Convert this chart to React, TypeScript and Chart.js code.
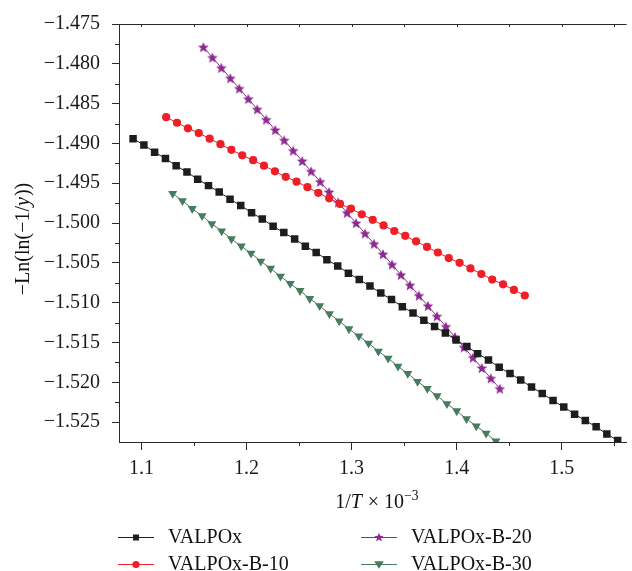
import React, { useEffect, useRef } from 'react';
import { Chart, registerables } from 'chart.js';

Chart.register(...registerables);

// ---------------- data ----------------
const valpoxX = [1.0920, 1.1023, 1.1125, 1.1228, 1.1330, 1.1433, 1.1535, 1.1638, 1.1740, 1.1843, 1.1945, 1.2048, 1.2150, 1.2253, 1.2355, 1.2458, 1.2560, 1.2663, 1.2765, 1.2868, 1.2970, 1.3073, 1.3175, 1.3278, 1.3380, 1.3483, 1.3585, 1.3688, 1.3790, 1.3893, 1.3995, 1.4098, 1.4200, 1.4303, 1.4405, 1.4508, 1.4610, 1.4713, 1.4815, 1.4918, 1.5020, 1.5123, 1.5225, 1.5328, 1.5430, 1.5533];
const valpoxY = [-1.4894, -1.4902, -1.4911, -1.4919, -1.4928, -1.4936, -1.4945, -1.4953, -1.4961, -1.4970, -1.4978, -1.4987, -1.4995, -1.5004, -1.5012, -1.5020, -1.5029, -1.5037, -1.5046, -1.5054, -1.5063, -1.5071, -1.5079, -1.5088, -1.5096, -1.5105, -1.5113, -1.5122, -1.5130, -1.5138, -1.5147, -1.5155, -1.5164, -1.5172, -1.5181, -1.5189, -1.5197, -1.5206, -1.5214, -1.5223, -1.5231, -1.5240, -1.5248, -1.5256, -1.5265, -1.5273];

const b10X = [1.1235, 1.1338, 1.1442, 1.1545, 1.1649, 1.1752, 1.1856, 1.1959, 1.2063, 1.2166, 1.2270, 1.2373, 1.2476, 1.2580, 1.2683, 1.2787, 1.2890, 1.2994, 1.3097, 1.3201, 1.3304, 1.3407, 1.3511, 1.3614, 1.3718, 1.3821, 1.3925, 1.4028, 1.4132, 1.4235, 1.4339, 1.4442, 1.4545, 1.4649];
const b10Y = [-1.4867, -1.4874, -1.4881, -1.4887, -1.4894, -1.4901, -1.4908, -1.4915, -1.4921, -1.4928, -1.4935, -1.4942, -1.4948, -1.4955, -1.4962, -1.4969, -1.4976, -1.4982, -1.4989, -1.4996, -1.5003, -1.5010, -1.5016, -1.5023, -1.5030, -1.5037, -1.5044, -1.5050, -1.5057, -1.5064, -1.5071, -1.5077, -1.5084, -1.5091];

const b20X = [1.1589, 1.1675, 1.1760, 1.1846, 1.1931, 1.2017, 1.2102, 1.2188, 1.2273, 1.2359, 1.2444, 1.2530, 1.2615, 1.2701, 1.2786, 1.2872, 1.2957, 1.3043, 1.3128, 1.3214, 1.3299, 1.3385, 1.3470, 1.3556, 1.3641, 1.3727, 1.3813, 1.3898, 1.3984, 1.4069, 1.4155, 1.4240, 1.4326, 1.4411];
const b20Y = [-1.4779, -1.4792, -1.4805, -1.4818, -1.4831, -1.4844, -1.4857, -1.4870, -1.4883, -1.4896, -1.4909, -1.4922, -1.4935, -1.4948, -1.4961, -1.4974, -1.4987, -1.5000, -1.5013, -1.5026, -1.5039, -1.5052, -1.5065, -1.5078, -1.5091, -1.5104, -1.5117, -1.5130, -1.5143, -1.5156, -1.5169, -1.5182, -1.5195, -1.5208];

const b30X = [1.1297, 1.1390, 1.1483, 1.1577, 1.1670, 1.1763, 1.1856, 1.1950, 1.2043, 1.2136, 1.2229, 1.2323, 1.2416, 1.2509, 1.2602, 1.2696, 1.2789, 1.2882, 1.2975, 1.3069, 1.3162, 1.3255, 1.3348, 1.3442, 1.3535, 1.3628, 1.3721, 1.3814, 1.3908, 1.4001, 1.4094, 1.4187, 1.4281, 1.4374];
const b30Y = [-1.4963, -1.4972, -1.4982, -1.4991, -1.5001, -1.5010, -1.5020, -1.5029, -1.5038, -1.5048, -1.5057, -1.5067, -1.5076, -1.5085, -1.5095, -1.5104, -1.5114, -1.5123, -1.5133, -1.5142, -1.5151, -1.5161, -1.5170, -1.5180, -1.5189, -1.5199, -1.5208, -1.5217, -1.5227, -1.5236, -1.5246, -1.5255, -1.5264, -1.5274];

const seriesNames = ['VALPOx', 'VALPOx-B-10', 'VALPOx-B-20', 'VALPOx-B-30'];
const seriesColors = ['#1d1d1d', '#ee1f26', '#8b2a8f', '#477b5d'];
const seriesMarkers = ['square', 'circle', 'star', 'triangleDown'];

const xMajorTicks = [1.1, 1.2, 1.3, 1.4, 1.5];
const xMinorTicks = [1.15, 1.25, 1.35, 1.45, 1.55];
const yMajorTicks = [-1.525, -1.52, -1.515, -1.51, -1.505, -1.5, -1.495, -1.49, -1.485, -1.48, -1.475];
const yMinorTicks = [-1.5225, -1.5175, -1.5125, -1.5075, -1.5025, -1.4975, -1.4925, -1.4875, -1.4825, -1.4775];
const xRange = [1.0786, 1.5619];
const yRange = [-1.5275, -1.475];

// legend layout: [series index] per column, rows top to bottom
const legendColumns = [[0, 1], [2, 3]];

const FONT = '"Liberation Serif", "Times New Roman", serif';
const AXIS = '#2a2a2a';

function starPath(ctx: CanvasRenderingContext2D, cx: number, cy: number, outer: number, inner: number) {
  ctx.beginPath();
  for (let i = 0; i < 10; i++) {
    const r = i % 2 === 0 ? outer : inner;
    const a = -Math.PI / 2 + (i * Math.PI) / 5;
    const px = cx + r * Math.cos(a);
    const py = cy + r * Math.sin(a);
    if (i === 0) ctx.moveTo(px, py); else ctx.lineTo(px, py);
  }
  ctx.closePath();
}

function makeStar(color: string, outer: number, inner: number) {
  const c = document.createElement('canvas');
  const s = Math.ceil(outer * 2 + 2);
  c.width = s; c.height = s;
  const g = c.getContext('2d')!;
  g.fillStyle = color;
  starPath(g, s / 2, s / 2 + 0.6, outer, inner);
  g.fill();
  return c;
}

function drawMarker(ctx: CanvasRenderingContext2D, kind: string, x: number, y: number, color: string) {
  ctx.fillStyle = color;
  if (kind === 'square') {
    ctx.fillRect(x - 3, y - 3, 6, 6);
  } else if (kind === 'circle') {
    ctx.beginPath(); ctx.arc(x, y, 3.6, 0, Math.PI * 2); ctx.fill();
  } else if (kind === 'star') {
    starPath(ctx, x, y, 4.8, 2.1); ctx.fill();
  } else {
    ctx.beginPath();
    ctx.moveTo(x - 4.8, y - 3.2); ctx.lineTo(x + 4.8, y - 3.2); ctx.lineTo(x, y + 4.2);
    ctx.closePath(); ctx.fill();
  }
}

function drawRich(ctx: CanvasRenderingContext2D, parts: { t: string; it?: boolean; sup?: boolean }[], size: number, startX: number, baseY: number, measureOnly = false) {
  let x = startX;
  for (const p of parts) {
    const fs = p.sup ? size * 0.68 : size;
    ctx.font = `${p.it ? 'italic ' : ''}${fs}px ${FONT}`;
    const w = ctx.measureText(p.t).width;
    if (!measureOnly) ctx.fillText(p.t, x, p.sup ? baseY - size * 0.42 : baseY);
    x += w + (p.it ? 1 : 0);
  }
  return x - startX;
}

const decorPlugin = {
  id: 'decor',
  afterDraw(chart: any) {
    const { ctx, chartArea: a, scales } = chart;
    const xs = scales.x, ys = scales.y;
    ctx.save();
    // minor ticks + top border
    ctx.strokeStyle = AXIS;
    ctx.lineWidth = 1;
    ctx.beginPath();
    xMinorTicks.forEach((v) => {
      const px = Math.round(xs.getPixelForValue(v)) + 0.5;
      ctx.moveTo(px, a.bottom); ctx.lineTo(px, a.bottom + 4);
    });
    yMinorTicks.forEach((v) => {
      const py = Math.round(ys.getPixelForValue(v)) + 0.5;
      ctx.moveTo(a.left, py); ctx.lineTo(a.left - 4, py);
    });
    ctx.moveTo(a.left, a.top + 0.5); ctx.lineTo(a.right, a.top + 0.5);
    [...xMajorTicks, ...xMinorTicks].forEach((v) => {
      const px = Math.round(xs.getPixelForValue(v)) + 0.5;
      ctx.moveTo(px, a.top); ctx.lineTo(px, a.top + 3);
    });
    ctx.stroke();

    ctx.fillStyle = '#111';
    ctx.textBaseline = 'alphabetic';
    ctx.textAlign = 'left';
    // x title
    const xParts = [{ t: '1/' }, { t: 'T', it: true }, { t: ' × 10' }, { t: '−3', sup: true }];
    const xw = drawRich(ctx, xParts, 20, 0, 0, true);
    const cx = (a.left + a.right) / 2 + 4;
    drawRich(ctx, xParts, 20, cx - xw / 2, a.bottom + 66);
    // y title
    const yParts = [{ t: '−Ln(ln(−1/' }, { t: 'y', it: true }, { t: '))' }];
    const yw = drawRich(ctx, yParts, 20, 0, 0, true);
    ctx.save();
    ctx.translate(29, (a.top + a.bottom) / 2 + 6);
    ctx.rotate(-Math.PI / 2);
    drawRich(ctx, yParts, 20, -yw / 2, 0);
    ctx.restore();

    // legend
    const colX = [118, 361];
    const rowY = [537, 564];
    ctx.font = `20px ${FONT}`;
    ctx.textBaseline = 'middle';
    legendColumns.forEach((col, ci) => {
      col.forEach((si, ri) => {
        const lx = colX[ci];
        const ly = rowY[ri];
        const color = seriesColors[si];
        ctx.strokeStyle = color;
        ctx.lineWidth = 1.2;
        ctx.beginPath(); ctx.moveTo(lx, ly + 0.5); ctx.lineTo(lx + 36, ly + 0.5); ctx.stroke();
        drawMarker(ctx, seriesMarkers[si], lx + 18, ly + 0.5, color);
        ctx.fillStyle = '#111';
        ctx.font = `20px ${FONT}`;
        ctx.fillText(seriesNames[si], lx + 50, ly + 1);
      });
    });
    ctx.restore();
  },
};

function toPoints(xs: number[], ys: number[]) {
  return xs.map((x, i) => ({ x, y: ys[i] }));
}

export default function App() {
  const ref = useRef<HTMLCanvasElement | null>(null);
  useEffect(() => {
    const canvas = ref.current!;
    const star = makeStar(seriesColors[2], 5.6, 2.5);
    const pointStyles: any[] = ['rect', 'circle', star, 'triangle'];
    const radii = [5.3, 4.1, 5, 5.2];
    const dataSets = [toPoints(valpoxX, valpoxY), toPoints(b10X, b10Y), toPoints(b20X, b20Y), toPoints(b30X, b30Y)];
    const chart = new Chart(canvas, {
      type: 'line',
      data: {
        datasets: dataSets.map((d, i) => ({
          label: seriesNames[i],
          data: d,
          borderColor: seriesColors[i],
          backgroundColor: seriesColors[i],
          borderWidth: 1,
          pointStyle: pointStyles[i],
          pointRadius: radii[i],
          pointRotation: i === 3 ? 180 : 0,
          pointBorderWidth: 0,
          pointBackgroundColor: seriesColors[i],
          pointBorderColor: seriesColors[i],
          tension: 0,
        })),
      },
      options: {
        animation: false,
        responsive: false,
        events: [],
        layout: { padding: { top: 18, left: 0, right: 0, bottom: 0 } },
        plugins: { legend: { display: false }, tooltip: { enabled: false }, title: { display: false } },
        scales: {
          x: {
            type: 'linear',
            min: xRange[0],
            max: xRange[1],
            afterBuildTicks: (s: any) => { s.ticks = xMajorTicks.map((value) => ({ value })); },
            afterFit: (s: any) => { s.height = 129; },
            grid: { display: true, drawOnChartArea: false, drawTicks: true, tickLength: 8, color: AXIS, lineWidth: 1 },
            border: { display: true, color: AXIS, width: 1 },
            ticks: { font: { family: FONT, size: 20 }, color: '#1a1a1a', padding: 7, maxRotation: 0, callback: (v: any) => Number(v).toFixed(1) },
          },
          y: {
            type: 'linear',
            min: yRange[0],
            max: yRange[1],
            afterBuildTicks: (s: any) => { s.ticks = yMajorTicks.map((value) => ({ value })); },
            afterFit: (s: any) => { s.width = 119; },
            grid: { display: true, drawOnChartArea: false, drawTicks: true, tickLength: 7, color: AXIS, lineWidth: 1 },
            border: { display: true, color: AXIS, width: 1 },
            ticks: { font: { family: FONT, size: 20 }, color: '#1a1a1a', padding: 12, callback: (v: any) => '−' + Math.abs(Number(v)).toFixed(3) },
          },
        },
      },
      plugins: [decorPlugin],
    });
    return () => chart.destroy();
  }, []);
  return (
    <div style={{ position: 'absolute', left: 0, top: 0, width: 632, height: 571, background: '#fff' }}>
      <canvas ref={ref} width={632} height={571} style={{ display: 'block', width: 632, height: 571 }} />
    </div>
  );
}
